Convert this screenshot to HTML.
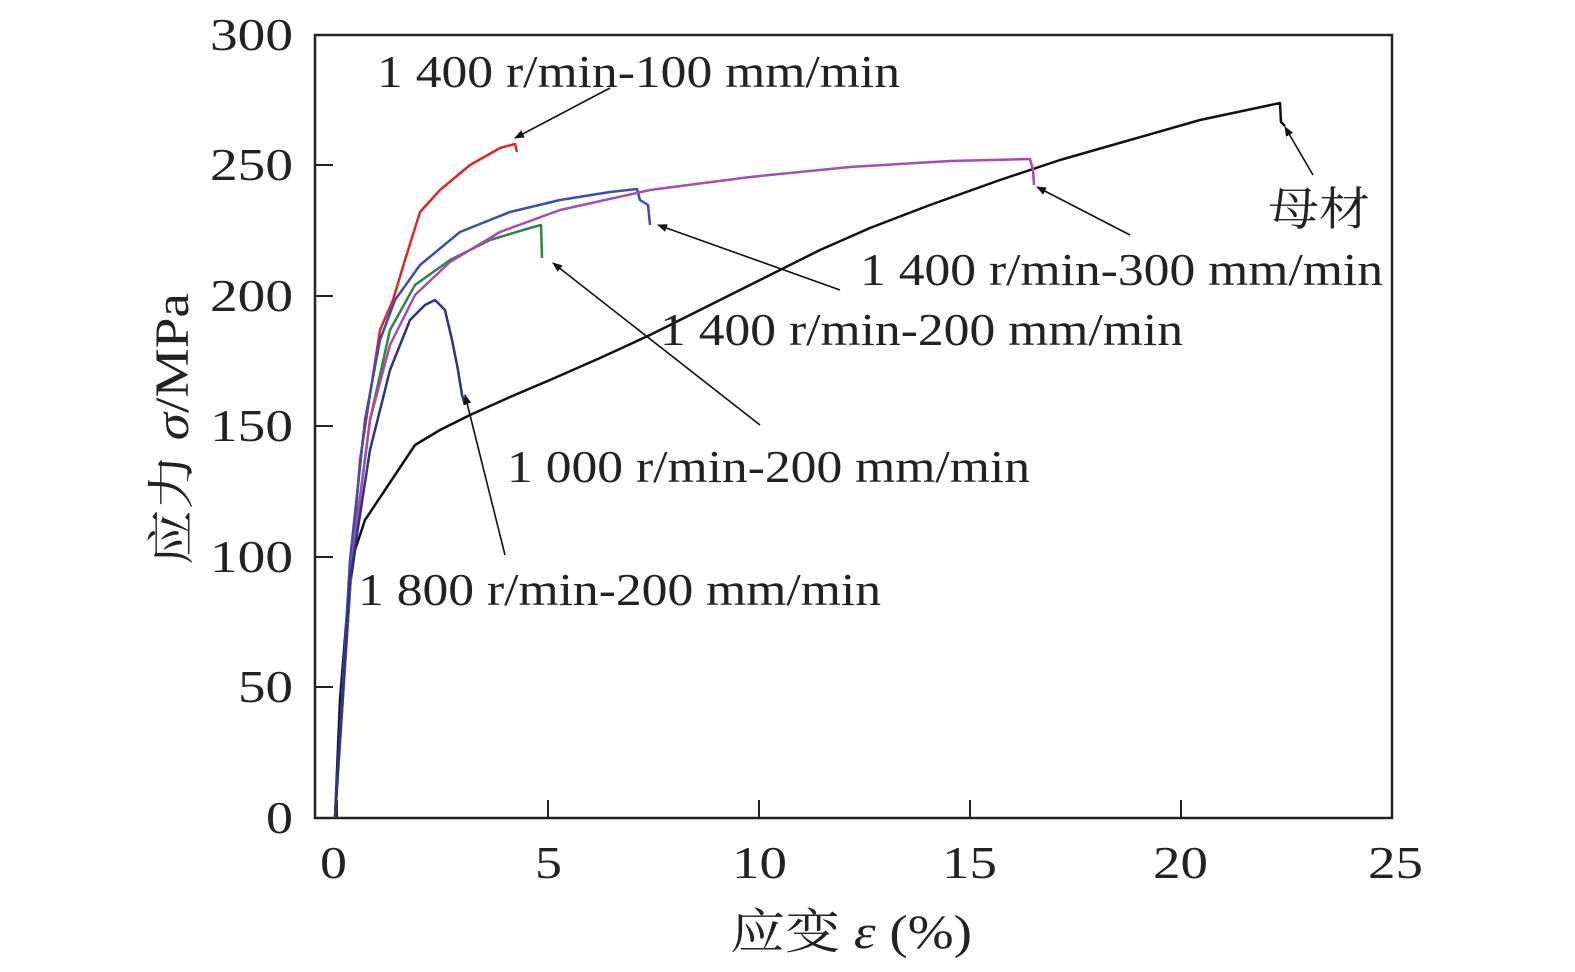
<!DOCTYPE html>
<html><head><meta charset="utf-8"><style>body{margin:0;background:#fff}svg{display:block}text{font-family:"Liberation Serif","Noto Serif CJK SC",serif;fill:#222}</style></head><body>
<svg width="1575" height="972" viewBox="0 0 1575 972" xmlns="http://www.w3.org/2000/svg">
<defs><marker id="a" markerWidth="10" markerHeight="8" refX="9" refY="4" orient="auto" markerUnits="userSpaceOnUse"><path d="M0,0 L10,4 L0,8 z" fill="#111"/></marker></defs>
<rect x="315" y="35" width="1077" height="783" fill="none" stroke="#222" stroke-width="2.5"/>
<g stroke="#222" stroke-width="2">
<line x1="337" y1="818" x2="337" y2="800"/><line x1="548" y1="818" x2="548" y2="800"/><line x1="759" y1="818" x2="759" y2="800"/><line x1="970" y1="818" x2="970" y2="800"/><line x1="1181" y1="818" x2="1181" y2="800"/>
<line x1="315" y1="687" x2="333" y2="687"/><line x1="315" y1="557" x2="333" y2="557"/><line x1="315" y1="426" x2="333" y2="426"/><line x1="315" y1="296" x2="333" y2="296"/><line x1="315" y1="165" x2="333" y2="165"/>
</g>
<g font-size="46" text-anchor="end" lengthAdjust="spacingAndGlyphs">
<text x="293" y="833" textLength="27" lengthAdjust="spacingAndGlyphs">0</text><text x="293" y="702" textLength="55" lengthAdjust="spacingAndGlyphs">50</text><text x="293" y="572" textLength="83" lengthAdjust="spacingAndGlyphs">100</text><text x="293" y="441" textLength="83" lengthAdjust="spacingAndGlyphs">150</text><text x="293" y="311" textLength="83" lengthAdjust="spacingAndGlyphs">200</text><text x="293" y="180" textLength="83" lengthAdjust="spacingAndGlyphs">250</text><text x="293" y="50" textLength="83" lengthAdjust="spacingAndGlyphs">300</text></g>
<g font-size="46">
<text x="320" y="878" textLength="27" lengthAdjust="spacingAndGlyphs">0</text><text x="535" y="878" textLength="27" lengthAdjust="spacingAndGlyphs">5</text><text x="732" y="878" textLength="55" lengthAdjust="spacingAndGlyphs">10</text><text x="942" y="878" textLength="55" lengthAdjust="spacingAndGlyphs">15</text><text x="1153" y="878" textLength="55" lengthAdjust="spacingAndGlyphs">20</text><text x="1368" y="878" textLength="55" lengthAdjust="spacingAndGlyphs">25</text></g>
<text x="730" y="948" font-size="48" textLength="242" lengthAdjust="spacingAndGlyphs">应变 <tspan font-style="italic">ε</tspan> (%)</text>
<text transform="translate(188,565) rotate(-90)" font-size="48" textLength="272" lengthAdjust="spacingAndGlyphs">应力 <tspan font-style="italic">σ</tspan>/MPa</text>
<g fill="none" stroke-width="2.5" stroke-linejoin="round">
<polyline stroke="#111" points="335,818 340,700 348,600 355,550 365,520 385,490 415,445 440,430 470,415 510,397 550,380 600,358 650,335 700,310 760,280 820,250 870,228 930,205 1000,180 1060,160 1130,140 1200,120 1280,103 1281,122 1285,126"/>
<polyline stroke="#d62a2a" points="335,818 345,650 360,460 380,330 393,300 405,260 420,212 440,190 470,165 500,148 515,144 517,152"/>
<polyline stroke="#3a4fa8" points="335,818 350,560 365,420 380,340 395,300 420,265 460,232 510,212 560,200 610,192 637,189 640,200 648,205 650,225"/>
<polyline stroke="#2e8540" points="335,818 352,560 370,420 390,330 415,285 450,260 490,240 530,228 541,225 542,258"/>
<polyline stroke="#a64bb0" points="335,818 352,560 370,420 390,345 415,295 450,262 500,232 560,210 650,190 750,177 850,167 950,161 1030,159 1033,170 1034,185"/>
<polyline stroke="#2a3480" points="335,818 350,580 370,450 390,370 410,320 425,305 435,300 445,310 452,340 458,370 462,395 465,405"/>
</g>
<g stroke="#111" stroke-width="1.6" marker-end="url(#a)">
<line x1="610" y1="88" x2="515" y2="138"/><line x1="1130" y1="235" x2="1037" y2="187"/><line x1="840" y1="290" x2="658" y2="225"/><line x1="760" y1="425" x2="553" y2="263"/><line x1="505" y1="555" x2="465" y2="395"/><line x1="1313" y1="175" x2="1285" y2="127"/></g>
<g font-size="46">
<text x="377" y="87" textLength="523" lengthAdjust="spacingAndGlyphs">1 400 r/min-100 mm/min</text>
<text x="860" y="285" textLength="523" lengthAdjust="spacingAndGlyphs">1 400 r/min-300 mm/min</text>
<text x="660" y="345" textLength="523" lengthAdjust="spacingAndGlyphs">1 400 r/min-200 mm/min</text>
<text x="507" y="482" textLength="523" lengthAdjust="spacingAndGlyphs">1 000 r/min-200 mm/min</text>
<text x="358" y="605" textLength="523" lengthAdjust="spacingAndGlyphs">1 800 r/min-200 mm/min</text>
<text x="1268" y="225" textLength="102" lengthAdjust="spacingAndGlyphs">母材</text></g>
</svg></body></html>
